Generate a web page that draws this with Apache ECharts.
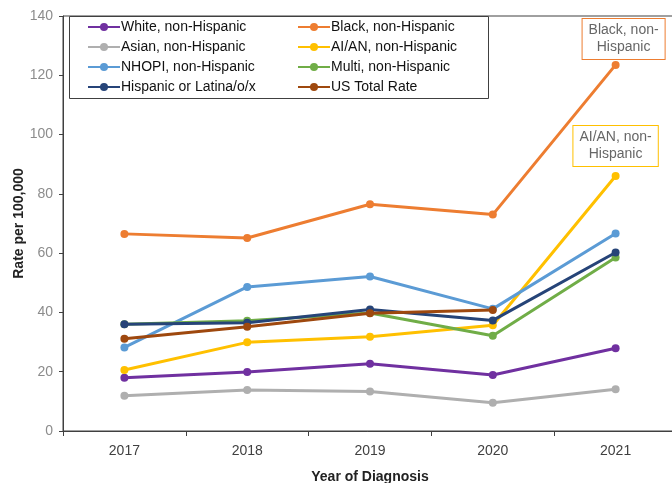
<!DOCTYPE html>
<html><head><meta charset="utf-8">
<script src="https://cdn.jsdelivr.net/npm/echarts@6/dist/echarts.min.js"></script>
<style>html,body{margin:0;padding:0;background:#fff}#c{width:672px;height:483px}</style>
</head><body><div id="c"></div>
<script>
const years = ['2017','2018','2019','2020','2021'];
const white = [18.0, 19.9, 22.7, 18.9, 27.9];
const black = [66.5, 65.1, 76.5, 73.0, 123.5];
const asian = [11.9, 13.8, 13.3, 9.5, 14.1];
const aian = [20.6, 29.9, 31.8, 35.7, 86.0];
const nhopi = [28.2, 48.6, 52.1, 41.2, 66.6];
const multi = [36.0, 37.2, 39.8, 32.1, 58.5];
const hispanic = [36.0, 36.5, 41.0, 37.3, 60.2];
const usTotal = [31.1, 35.2, 39.7, 40.8, null];
const yTicks = [0, 20, 40, 60, 80, 100, 120, 140];

const names = ['White, non-Hispanic','Black, non-Hispanic','Asian, non-Hispanic','AI/AN, non-Hispanic',
  'NHOPI, non-Hispanic','Multi, non-Hispanic','Hispanic or Latina/o/x','US Total Rate'];
const colors = ['#7030A0','#ED7D31','#AFAFAF','#FFC000','#5B9BD5','#70AD47','#264478','#9E480E'];
const values = [white, black, asian, aian, nhopi, multi, hispanic, usTotal];
const FONT = 'Liberation Sans, Arial, sans-serif';

function mkData(arr, idx){
  return arr.map((v,i)=>{
    if (v === null) return '-';
    if (i === arr.length-1 && idx === 1) {
      return {value: v, label: {show: true, position: 'top', distance: 2, offset: [8, 0],
        formatter: 'Black, non-\nHispanic', color: '#666', fontFamily: FONT, fontSize: 14, lineHeight: 17,
        backgroundColor: '#fff', borderColor: '#ED7D31', borderWidth: 1, padding: [3, 6, 3, 6], align: 'center'}};
    }
    if (i === arr.length-1 && idx === 3) {
      return {value: v, label: {show: true, position: 'top', distance: 6,
        formatter: 'AI/AN, non-\nHispanic', color: '#666', fontFamily: FONT, fontSize: 14, lineHeight: 17,
        backgroundColor: '#fff', borderColor: '#FFC000', borderWidth: 1, padding: [3, 6, 3, 6], align: 'center'}};
    }
    return v;
  });
}

const series = names.map((n,i)=>({
  name: n, type: 'line', data: mkData(values[i], i),
  symbol: 'circle', symbolSize: 8,
  lineStyle: {width: 3, color: colors[i]}, itemStyle: {color: colors[i]},
  connectNulls: false, z: 2 + i
}));

const legendCommon = {
  orient: 'vertical', itemWidth: 32, itemHeight: 10, itemGap: 6,
  textStyle: {fontFamily: FONT, fontSize: 14, color: '#111', padding: [0,0,0,-4]},
  backgroundColor: 'transparent', padding: 0
};

const chart = echarts.init(document.getElementById('c'), null, {renderer: 'canvas'});
chart.setOption({
  animation: false,
  graphic: [{type: 'rect', left: 69, top: 16, z: 10,
    shape: {width: 419, height: 82}, style: {fill: '#fff', stroke: '#404040', lineWidth: 1}}],
  legend: [
    Object.assign({}, legendCommon, {left: 87, top: 20, data: [names[0], names[2], names[4], names[6]], z: 20}),
    Object.assign({}, legendCommon, {left: 297, top: 20, data: [names[1], names[3], names[5], names[7]], z: 20})
  ],
  grid: {left: 63, top: 16, right: -5, bottom: 52, outerBoundsMode: 'none', containLabel: false,
    show: true, borderColor: '#404040', borderWidth: 1, backgroundColor: 'transparent'},
  xAxis: {
    type: 'category', data: years, boundaryGap: true,
    axisLine: {lineStyle: {color: '#404040', width: 1}},
    axisTick: {show: true, length: 5, lineStyle: {color: '#404040'}},
    axisLabel: {fontFamily: FONT, fontSize: 14, color: '#404040', margin: 13},
    name: 'Year of Diagnosis', nameLocation: 'middle', nameGap: 39,
    nameTextStyle: {fontFamily: FONT, fontSize: 14, fontWeight: 'bold', color: '#222'}
  },
  yAxis: {
    type: 'value', min: yTicks[0], max: yTicks[yTicks.length-1], interval: 20,
    axisLine: {show: true, lineStyle: {color: '#404040', width: 1}},
    axisTick: {show: true, length: 4, lineStyle: {color: '#404040'}},
    splitLine: {show: false},
    axisLabel: {fontFamily: FONT, fontSize: 14, color: '#8c8c8c', margin: 10},
    name: 'Rate per 100,000', nameLocation: 'middle', nameGap: 37, nameMoveOverlap: false,
    nameTextStyle: {fontFamily: FONT, fontSize: 14, fontWeight: 'bold', color: '#222'}
  },
  series: series
});
</script></body></html>
